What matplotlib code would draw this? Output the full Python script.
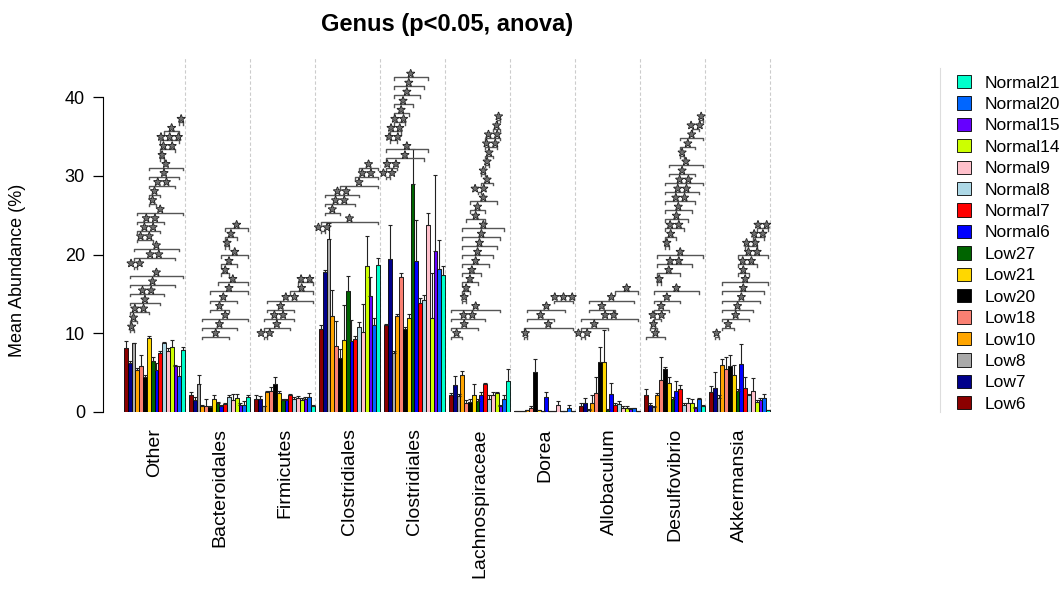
import numpy as np
import matplotlib.pyplot as plt
import matplotlib.patheffects as pe
from matplotlib.patches import Patch
from matplotlib.lines import Line2D

plt.rcParams['font.family'] = ['Liberation Sans', 'DejaVu Sans']

samples = ['Low6', 'Low7', 'Low8', 'Low10', 'Low18', 'Low20', 'Low21', 'Low27',
           'Normal6', 'Normal7', 'Normal8', 'Normal9', 'Normal14', 'Normal15', 'Normal20', 'Normal21']
colors = ['#8B0000', '#00008B', '#A9A9A9', '#FFA500', '#FA8072', '#000000', '#FFD700', '#006400',
          '#0000FF', '#FF0000', '#ADD8E6', '#FFC0CB', '#CCFF00', '#6600FF', '#0066FF', '#00FFCC']

taxa = ['Other', 'Bacteroidales', 'Firmicutes', 'Clostridiales', 'Clostridiales',
        'Lachnospiraceae', 'Dorea', 'Allobaculum', 'Desulfovibrio', 'Akkermansia']

# mean abundance (%) and upper error per sample
other_mean = [8.1, 6.2, 8.7, 5.3, 5.9, 4.4, 9.4, 6.5, 5.3, 7.5, 8.8, 7.8, 8.2, 5.8, 4.6, 7.9]
other_err = [0.9, 0.3, 0.1, 0.3, 1.4, 0.3, 0.2, 0.5, 0.9, 0.2, 0.1, 0.3, 0.9, 0.2, 1.2, 0.3]
bact_mean = [2.2, 1.5, 3.6, 0.8, 0.8, 0.6, 1.7, 1.2, 0.8, 1.0, 1.9, 1.5, 1.8, 0.9, 0.9, 1.9]
bact_err = [0.3, 0.4, 1.1, 0.1, 0.8, 0.1, 0.4, 0.1, 0.1, 0.1, 0.3, 0.8, 0.5, 0.3, 0.5, 0.2]
firm_mean = [1.7, 1.7, 0.7, 2.5, 2.7, 3.6, 2.4, 1.5, 1.5, 2.1, 1.7, 1.8, 1.5, 1.6, 1.9, 0.8]
firm_err = [0.5, 0.3, 0.1, 0.2, 0.5, 0.8, 0.3, 0.2, 0.2, 0.2, 0.2, 0.2, 0.3, 0.3, 0.5, 0.1]
clos1_mean = [10.5, 17.8, 22.0, 12.2, 8.4, 6.8, 9.1, 15.4, 9.0, 9.3, 10.8, 10.2, 18.6, 14.7, 11.0, 18.7]
clos1_err = [0.6, 0.2, 2.0, 3.3, 3.1, 1.2, 4.5, 1.9, 2.7, 0.3, 0.6, 3.5, 3.7, 2.4, 1.0, 0.8]
clos2_mean = [11.0, 19.4, 7.5, 12.2, 17.2, 10.5, 12.0, 28.9, 19.2, 13.8, 14.2, 23.7, 12.0, 20.4, 18.2, 17.4]
clos2_err = [0.2, 4.4, 0.3, 0.3, 0.5, 0.3, 0.4, 4.5, 5.2, 0.7, 0.6, 1.6, 5.6, 9.7, 3.7, 1.2]
lach_mean = [2.1, 3.4, 2.0, 4.7, 1.2, 1.3, 2.1, 1.4, 2.1, 3.6, 1.6, 2.2, 2.4, 0.8, 1.7, 3.9]
lach_err = [0.3, 1.2, 0.3, 0.5, 0.3, 0.3, 1.4, 0.2, 0.4, 0.1, 0.5, 0.3, 0.1, 0.1, 0.5, 1.5]
dorea_mean = [0.1, 0.1, 0.1, 0.25, 0.5, 5.1, 0.2, 0.1, 1.9, 0.1, 0.1, 0.9, 0.1, 0.1, 0.55, 0.1]
dorea_err = [0.05, 0.05, 0.05, 0.05, 0.3, 1.6, 0.05, 0.05, 0.7, 0.05, 0.05, 0.5, 0.05, 0.05, 0.4, 0.05]
allo_mean = [0.8, 1.1, 0.25, 1.1, 2.4, 6.4, 6.3, 0.25, 2.3, 0.9, 1.0, 0.55, 0.5, 0.4, 0.45, 0.1]
allo_err = [0.3, 0.7, 0.1, 1.0, 2.0, 1.9, 4.1, 0.1, 1.4, 0.2, 0.4, 0.2, 0.2, 0.1, 0.1, 0.05]
desu_mean = [2.2, 0.9, 0.6, 2.1, 4.1, 5.4, 3.7, 1.7, 2.7, 2.9, 0.9, 1.2, 1.2, 0.5, 1.6, 0.7]
desu_err = [0.7, 0.3, 0.2, 0.3, 2.9, 0.3, 0.8, 0.2, 1.3, 0.5, 0.2, 0.6, 0.4, 0.1, 0.2, 0.2]
akk_mean = [2.5, 3.1, 1.8, 6.0, 5.5, 5.8, 4.7, 2.7, 6.1, 3.1, 2.1, 2.7, 1.3, 1.5, 1.8, 0.2]
akk_err = [0.8, 2.0, 0.3, 0.7, 1.5, 1.4, 1.3, 0.2, 2.5, 1.4, 0.2, 1.6, 0.2, 0.3, 0.5, 0.1]

# significant pairs (sample i, sample j, number of stars), stacked bottom to top
other_sig = [(1, 2, 1), (1, 3, 1), (1, 6, 2), (1, 9, 1), (1, 10, 2), (1, 13, 1), (1, 15, 1), (2, 3, 2),
             (2, 13, 2), (2, 14, 1), (3, 7, 2), (3, 9, 2), (3, 10, 2), (3, 15, 1), (6, 8, 1), (6, 9, 1),
             (6, 13, 2), (6, 14, 1), (6, 15, 1), (9, 10, 1), (9, 13, 2), (9, 14, 3), (10, 14, 1), (14, 15, 1)]
bact_sig = [(3, 10, 1), (3, 12, 1), (3, 15, 1), (5, 10, 1), (5, 12, 1), (5, 15, 1), (7, 15, 1),
            (8, 10, 1), (8, 12, 1), (8, 15, 1), (9, 10, 1), (9, 12, 1), (9, 15, 1)]
firm_sig = [(2, 3, 2), (2, 9, 1), (2, 10, 2), (3, 10, 1), (3, 15, 2), (9, 15, 1), (11, 15, 2)]
clos1_sig = [(0, 1, 2), (0, 15, 1), (1, 5, 1), (1, 9, 2), (1, 10, 2), (5, 15, 1), (9, 15, 2), (10, 15, 1)]
clos2_sig = [(0, 1, 2), (0, 3, 2), (0, 10, 1), (0, 11, 1), (1, 3, 2), (1, 4, 2), (2, 5, 2), (2, 6, 1),
             (2, 7, 1), (2, 9, 1), (2, 10, 1), (2, 11, 1)]
lach_sig = [(0, 3, 1), (0, 7, 1), (0, 9, 2), (0, 13, 1), (3, 4, 1), (3, 5, 1), (3, 7, 1), (3, 8, 1),
            (3, 10, 1), (3, 11, 1), (3, 12, 1), (3, 13, 1), (3, 14, 1), (4, 9, 1), (5, 9, 1), (5, 12, 1),
            (7, 8, 2), (8, 11, 1), (8, 9, 1), (9, 10, 1), (9, 11, 1), (9, 12, 2), (9, 13, 2), (11, 13, 1),
            (12, 13, 1)]
dorea_sig = [(2, 3, 1), (2, 15, 1), (3, 10, 1), (3, 13, 1), (10, 15, 3)]
allo_sig = [(0, 1, 2), (0, 7, 1), (0, 15, 2), (2, 9, 1), (2, 14, 1), (9, 15, 1)]
desu_sig = [(0, 5, 1), (1, 3, 1), (2, 4, 2), (2, 6, 1), (2, 9, 1), (2, 14, 1), (3, 4, 1), (3, 9, 1),
            (3, 12, 2), (3, 15, 1), (5, 6, 1), (5, 8, 1), (5, 10, 2), (5, 11, 1), (5, 12, 1), (5, 13, 2),
            (5, 14, 2), (5, 15, 2), (6, 13, 1), (6, 15, 1), (9, 10, 1), (9, 13, 1), (9, 15, 1), (12, 14, 2),
            (14, 15, 1)]
akk_sig = [(1, 2, 1), (3, 6, 1), (3, 10, 1), (3, 11, 1), (3, 13, 1), (3, 14, 1), (3, 15, 1), (7, 10, 1),
           (7, 12, 2), (7, 15, 2), (9, 12, 2), (11, 14, 2), (12, 15, 2)]

means = [other_mean, bact_mean, firm_mean, clos1_mean, clos2_mean, lach_mean, dorea_mean, allo_mean, desu_mean, akk_mean]
errs = [other_err, bact_err, firm_err, clos1_err, clos2_err, lach_err, dorea_err, allo_err, desu_err, akk_err]
sigs = [other_sig, bact_sig, firm_sig, clos1_sig, clos2_sig, lach_sig, dorea_sig, allo_sig, desu_sig, akk_sig]

# x is laid out in pixel units of the figure
W, H = 1064, 590
y0_px, px_per_unit = 412, 7.875
ymax = 45
g_start, g_step = 124, 65
bw = 61 / 16
step = 1.147

fig = plt.figure(figsize=(W / 100, H / 100), dpi=100)
ax = fig.add_axes([103 / W, (H - y0_px) / H, (940 - 103) / W, ymax * px_per_unit / H])
ax.set_xlim(103, 940)
ax.set_ylim(0, ymax)

star_fx = [pe.withStroke(linewidth=1.0, foreground='#111111')]

for g in range(len(taxa)):
    xs = g_start + g * g_step + bw * (np.arange(16) + 0.5)
    m = np.array(means[g])
    e = np.array(errs[g])
    ax.bar(xs, m, width=bw, color=colors, edgecolor='black', linewidth=0.6, zorder=2)
    ax.errorbar(xs, m, yerr=[np.zeros(16), e], fmt='none', ecolor='#222222',
                elinewidth=0.8, capsize=1.3, capthick=0.8, zorder=3)
    ax.axvline(g_start + g * g_step + 61, color='#cccccc', ls=(0, (3, 2)), lw=0.8, zorder=1)
    ax.text(g_start + g * g_step + 30.5, -16 / (ymax * px_per_unit), taxa[g],
            transform=ax.get_xaxis_transform(), rotation=90, ha='center', va='top', fontsize=14)

    base = max(10.07, max(m) + 1.5)
    for n, (i, j, s) in enumerate(sigs[g]):
        ys = base + n * step
        yl = ys - 0.5
        xi, xj = xs[i], xs[j]
        ax.plot([xi, xi, xj, xj], [yl - 0.3, yl, yl, yl - 0.3], color='#555555', lw=1.0,
                zorder=4, clip_on=False)
        ax.text((xi + xj) / 2, yl + 0.05, '\u2605' * s, ha='center', va='baseline', fontsize=7,
                family='DejaVu Sans', color='#6e6e6e', path_effects=star_fx,
                zorder=5, clip_on=False)

for side in ['top', 'right', 'bottom']:
    ax.spines[side].set_visible(False)
ax.spines['left'].set_bounds(0, 40)
ax.set_yticks([0, 10, 20, 30, 40])
ax.tick_params(axis='y', labelsize=13, length=7, width=0.9, pad=6)
ax.set_xticks([])

fig.text(18 / W, (H - 270) / H, 'Mean Abundance (%)', rotation=90, ha='center', va='center', fontsize=13)
fig.text(447 / W, (H - 25) / H, 'Genus (p<0.05, anova)', ha='center', va='center',
         fontsize=17, fontweight='bold')

# legend box edge
fig.add_artist(Line2D([940 / W, 940 / W], [(H - 412) / H, (H - 68) / H], color='#dddddd', lw=0.8))
handles = [Patch(facecolor=c, edgecolor='black', linewidth=0.6) for c in colors][::-1]
fig.legend(handles, samples[::-1], loc='upper left', bbox_to_anchor=(957 / W, (H - 75) / H),
           frameon=False, fontsize=12.5, handlelength=0.8, handleheight=0.8, labelspacing=0.33,
           handletextpad=0.8, borderaxespad=0, borderpad=0)

fig.savefig('out.png', dpi=100)
